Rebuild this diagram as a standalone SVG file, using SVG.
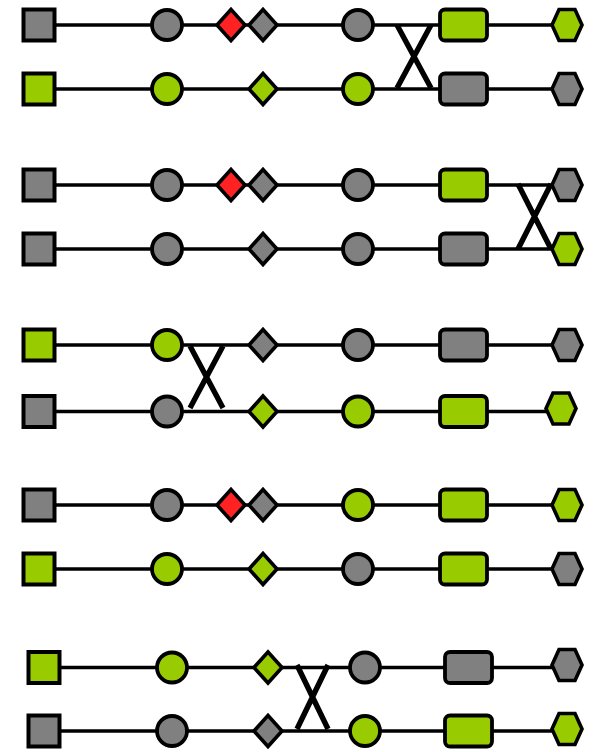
<svg xmlns="http://www.w3.org/2000/svg" width="596" height="752" viewBox="0 0 596 752">
<style>
.g{fill:#808080}.y{fill:#99cc00}.r{fill:#ff2222}
.ln{stroke:#000;stroke-width:3.6;fill:none}
.x{stroke:#000;stroke-width:5.4;fill:none}
</style>
<defs>
<rect id="sq" stroke="#000" stroke-width="4" x="-15.5" y="-15.5" width="31" height="31"/>
<circle id="ci" stroke="#000" stroke-width="3.8" r="15"/>
<polygon id="di" stroke="#000" stroke-width="3.6" points="0,-15.5 14,0 0,15.5 -14,0"/>
<rect id="rr" stroke="#000" stroke-width="3.8" x="-23.5" y="-15.5" width="47" height="31" rx="5"/>
<polygon id="hx" stroke="#000" stroke-width="3.6" points="-15,0 -8,-15.5 8,-15.5 15,0 8,15.5 -8,15.5"/>
</defs>
<rect width="596" height="752" fill="#fff"/>
<g id="connectors">
<line class="ln" x1="39" y1="25" x2="567" y2="25"/>
<line class="ln" x1="39" y1="89" x2="567" y2="89"/>
<path class="x" d="M397,25 L431,88 M397,88 L431,25"/>
<line class="ln" x1="39" y1="185" x2="567" y2="185"/>
<line class="ln" x1="39" y1="249" x2="567" y2="249"/>
<path class="x" d="M518,184 L551,249 M518,249 L551,184"/>
<line class="ln" x1="39" y1="345" x2="567" y2="345"/>
<line class="ln" x1="39" y1="411.5" x2="561" y2="411.5"/>
<path class="x" d="M190,346 L223,408 M190,408 L223,346"/>
<line class="ln" x1="39" y1="505" x2="567" y2="505"/>
<line class="ln" x1="39" y1="569" x2="567" y2="569"/>
<line class="ln" x1="44" y1="667.5" x2="567" y2="667.5"/>
<line class="ln" x1="44" y1="731" x2="567" y2="731"/>
<path class="x" d="M297,665 L328,729 M297,729 L328,665"/>
</g>
<g id="n1a"><use href="#sq" class="g" x="39" y="25"/></g>
<g id="n1b"><use href="#ci" class="g" x="167" y="25"/></g>
<g id="n1c"><use href="#di" class="r" x="231" y="25"/></g>
<g id="n1d"><use href="#di" class="g" x="263" y="25"/></g>
<g id="n1e"><use href="#ci" class="g" x="358" y="25"/></g>
<g id="n1f"><use href="#rr" class="y" x="463.5" y="25"/></g>
<g id="n1g"><use href="#hx" class="y" x="567" y="25"/></g>
<g id="n2a"><use href="#sq" class="y" x="39" y="89"/></g>
<g id="n2b"><use href="#ci" class="y" x="167" y="89"/></g>
<g id="n2d"><use href="#di" class="y" x="263" y="89"/></g>
<g id="n2e"><use href="#ci" class="y" x="358" y="89"/></g>
<g id="n2f"><use href="#rr" class="g" x="463.5" y="89"/></g>
<g id="n2g"><use href="#hx" class="g" x="567" y="89"/></g>
<g id="n3a"><use href="#sq" class="g" x="39" y="185"/></g>
<g id="n3b"><use href="#ci" class="g" x="167" y="185"/></g>
<g id="n3c"><use href="#di" class="r" x="231" y="185"/></g>
<g id="n3d"><use href="#di" class="g" x="263" y="185"/></g>
<g id="n3e"><use href="#ci" class="g" x="358" y="185"/></g>
<g id="n3f"><use href="#rr" class="y" x="463.5" y="185"/></g>
<g id="n3g"><use href="#hx" class="g" x="567" y="185"/></g>
<g id="n4a"><use href="#sq" class="g" x="39" y="249"/></g>
<g id="n4b"><use href="#ci" class="g" x="167" y="249"/></g>
<g id="n4d"><use href="#di" class="g" x="263" y="249"/></g>
<g id="n4e"><use href="#ci" class="g" x="358" y="249"/></g>
<g id="n4f"><use href="#rr" class="g" x="463.5" y="249"/></g>
<g id="n4g"><use href="#hx" class="y" x="567" y="249"/></g>
<g id="n5a"><use href="#sq" class="y" x="39" y="345"/></g>
<g id="n5b"><use href="#ci" class="y" x="167" y="345"/></g>
<g id="n5d"><use href="#di" class="g" x="263" y="345"/></g>
<g id="n5e"><use href="#ci" class="g" x="358" y="345"/></g>
<g id="n5f"><use href="#rr" class="g" x="463.5" y="345"/></g>
<g id="n5g"><use href="#hx" class="g" x="567" y="345"/></g>
<g id="n6a"><use href="#sq" class="g" x="39" y="411.5"/></g>
<g id="n6b"><use href="#ci" class="g" x="167" y="411.5"/></g>
<g id="n6d"><use href="#di" class="y" x="263" y="411.5"/></g>
<g id="n6e"><use href="#ci" class="y" x="358" y="411.5"/></g>
<g id="n6f"><use href="#rr" class="y" x="463.5" y="411.5"/></g>
<g id="n6g"><use href="#hx" class="y" x="561" y="408.5"/></g>
<g id="n7a"><use href="#sq" class="g" x="39" y="505"/></g>
<g id="n7b"><use href="#ci" class="g" x="167" y="505"/></g>
<g id="n7c"><use href="#di" class="r" x="231" y="505"/></g>
<g id="n7d"><use href="#di" class="g" x="263" y="505"/></g>
<g id="n7e"><use href="#ci" class="y" x="358" y="505"/></g>
<g id="n7f"><use href="#rr" class="y" x="463.5" y="505"/></g>
<g id="n7g"><use href="#hx" class="y" x="567" y="505"/></g>
<g id="n8a"><use href="#sq" class="y" x="39" y="569"/></g>
<g id="n8b"><use href="#ci" class="y" x="167" y="569"/></g>
<g id="n8d"><use href="#di" class="y" x="263" y="569"/></g>
<g id="n8e"><use href="#ci" class="g" x="358" y="569"/></g>
<g id="n8f"><use href="#rr" class="y" x="463.5" y="569"/></g>
<g id="n8g"><use href="#hx" class="g" x="567" y="569"/></g>
<g id="n9a"><use href="#sq" class="y" x="44" y="667.5"/></g>
<g id="n9b"><use href="#ci" class="y" x="172" y="667.5"/></g>
<g id="n9d"><use href="#di" class="y" x="268" y="667.5"/></g>
<g id="n9e"><use href="#ci" class="g" x="365" y="667.5"/></g>
<g id="n9f"><use href="#rr" class="g" x="468.5" y="667.5"/></g>
<g id="n9g"><use href="#hx" class="g" x="567" y="665"/></g>
<g id="n10a"><use href="#sq" class="g" x="44" y="731"/></g>
<g id="n10b"><use href="#ci" class="g" x="172" y="731"/></g>
<g id="n10d"><use href="#di" class="g" x="268" y="731"/></g>
<g id="n10e"><use href="#ci" class="y" x="365" y="731"/></g>
<g id="n10f"><use href="#rr" class="y" x="468.5" y="731"/></g>
<g id="n10g"><use href="#hx" class="y" x="567" y="729"/></g>
</svg>
